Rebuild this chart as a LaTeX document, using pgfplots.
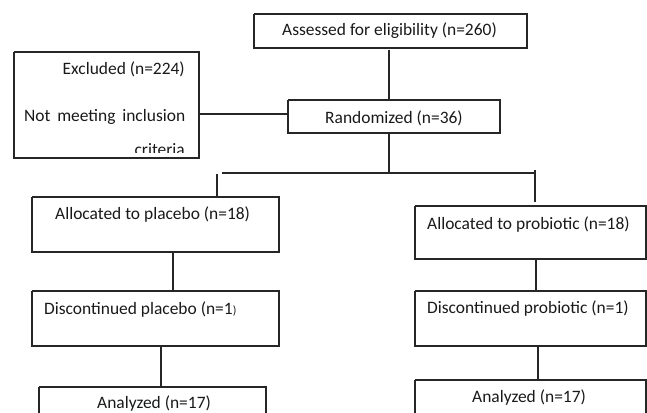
\documentclass[border=0pt]{standalone}
\usepackage{pgfplots}
\pgfplotsset{compat=1.18}
\usepackage{fontspec}
\setmainfont{Carlito}
\begin{document}
\begin{tikzpicture}[x=1bp,y=1bp]
\pgfplotsset{fl/.style={black!85, line width=1.1bp, mark=none, solid}}
\begin{axis}[name=ax,
  width=647bp, height=413bp, scale only axis,
  xmin=0, xmax=647, ymin=0, ymax=413, y dir=reverse,
  hide axis, clip=true,
]
% boxes
\addplot[fl] coordinates {(254,14) (527,14) (527,48) (254,48) (254,14)};
\addplot[fl] coordinates {(288,100) (500,100) (500,133) (288,133) (288,100)};
\addplot[fl] coordinates {(14,52) (199,52) (199,158) (14,158) (14,52)};
\addplot[fl] coordinates {(32,197) (279,197) (279,252) (32,252) (32,197)};
\addplot[fl] coordinates {(32,291) (279,291) (279,346) (32,346) (32,291)};
\addplot[fl] coordinates {(39,387) (266,387) (266,440) (39,440) (39,387)};
\addplot[fl] coordinates {(415,206) (646,206) (646,259) (415,259) (415,206)};
\addplot[fl] coordinates {(415,291) (646,291) (646,346) (415,346) (415,291)};
\addplot[fl] coordinates {(415,380) (646,380) (646,440) (415,440) (415,380)};
% connectors
\addplot[fl] coordinates {(389,50) (389,100)};
\addplot[fl] coordinates {(199,114) (288,114)};
\addplot[fl] coordinates {(389,133) (389,173)};
\addplot[fl] coordinates {(222,173) (535,173)};
\addplot[fl] coordinates {(217,174) (217,197)};
\addplot[fl] coordinates {(535,170) (535,202)};
\addplot[fl] coordinates {(173,252) (173,291)};
\addplot[fl] coordinates {(536,259) (536,291)};
\addplot[fl] coordinates {(161,346) (161,387)};
\addplot[fl] coordinates {(538,346) (538,380)};
% texts
\begin{scope}[every node/.style={inner sep=0pt, anchor=base west, font=\fontsize{17.5}{21}\selectfont, text=black!90}]
\node at (axis cs:282,36) {Assessed for eligibility (n=260)};
\node at (axis cs:325,123) {Randomized (n=36)};
\node[anchor=base east] at (axis cs:185,75) {Excluded (n=224)};
\node at (axis cs:24,121) {\makebox[161bp][s]{Not meeting inclusion}};
\begin{scope}
\clip (axis cs:100,130) rectangle (axis cs:198,152);
\node[anchor=base east] at (axis cs:185,155) {criteria};
\end{scope}
\node at (axis cs:55,219) {Allocated to placebo (n=18)};
\node at (axis cs:44,314) {Discontinued placebo (n=1{\fontsize{12}{12}\selectfont )}};
\node at (axis cs:97,408) {Analyzed (n=17)};
\node at (axis cs:427,229) {Allocated to probiotic (n=18)};
\node at (axis cs:427,313) {Discontinued probiotic (n=1)};
\node at (axis cs:472,402) {Analyzed (n=17)};
\end{scope}
\end{axis}
\pgfresetboundingbox
\path[use as bounding box] (ax.south west) rectangle (ax.north east);
\end{tikzpicture}
\end{document}
